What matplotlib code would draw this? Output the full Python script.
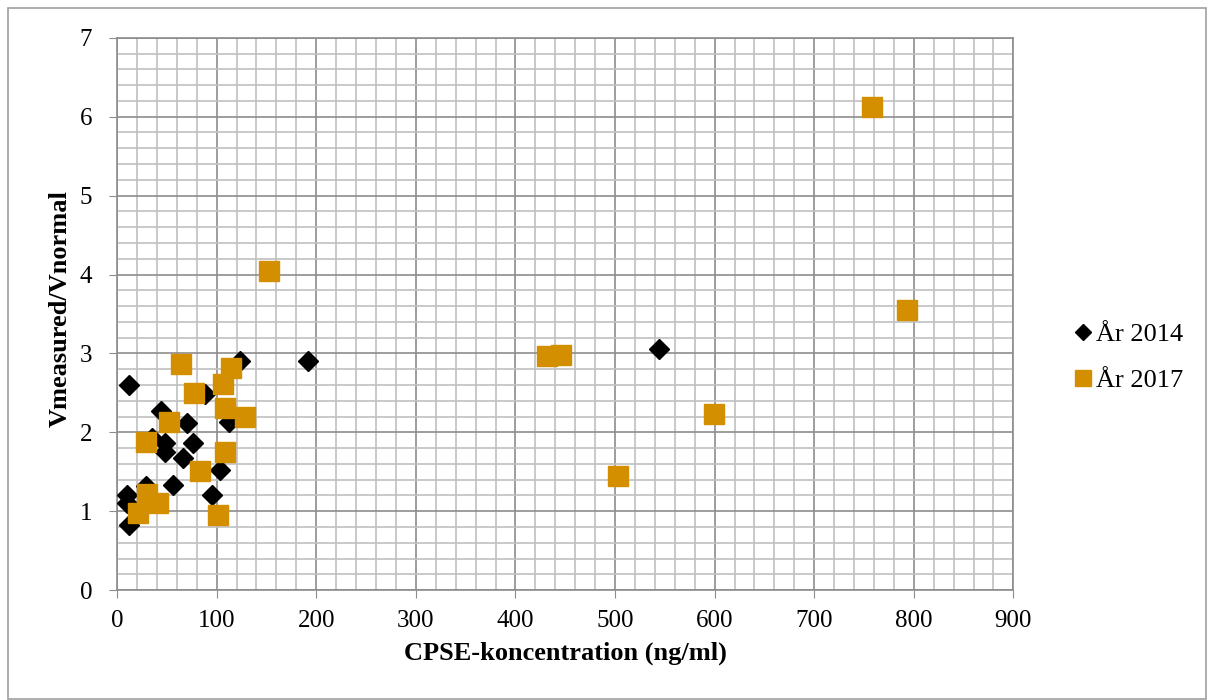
import matplotlib.pyplot as plt
from matplotlib.patches import Rectangle
from matplotlib.ticker import MultipleLocator

# År 2014 (black diamonds)
x_2014 = [12, 123, 88, 44, 70, 112, 35, 48, 48, 76, 66, 103, 56, 95, 29, 10, 10, 12, 192, 544]
y_2014 = [2.6, 2.9, 2.49, 2.27, 2.12, 2.13, 1.93, 1.86, 1.75, 1.87, 1.67, 1.52, 1.33, 1.2, 1.32, 1.2, 1.1, 0.82, 2.9, 3.05]

# År 2017 (orange squares)
x_2017 = [64, 114, 106, 77, 108, 128, 52, 29, 108, 83, 30, 41, 21, 101, 153, 432, 446, 503, 599, 758, 793]
y_2017 = [2.86, 2.82, 2.61, 2.5, 2.31, 2.2, 2.13, 1.88, 1.75, 1.51, 1.22, 1.1, 0.98, 0.95, 4.05, 2.97, 2.98, 1.45, 2.23, 6.12, 3.55]

plt.rcParams['font.family'] = ['Liberation Serif', 'DejaVu Serif']

fig = plt.figure(figsize=(12.08, 7), dpi=100)
ax = fig.add_axes([0.0969, 0.157, 0.742, 0.789])

fig.patches.append(Rectangle((8 / 1208, 0.001), 1198 / 1208, 1 - 8 / 700 - 0.001,
                             transform=fig.transFigure, fill=False,
                             edgecolor='#a0a0a0', linewidth=1.2))

ax.plot(x_2014, y_2014, linestyle='none', marker='D', markersize=10,
        color='black', label='År 2014', zorder=3)
ax.plot(x_2017, y_2017, linestyle='none', marker='s', markersize=14,
        color='#d48f00', label='År 2017', zorder=4)

ax.set_xlim(0, 900)
ax.set_ylim(0, 7)
ax.xaxis.set_major_locator(MultipleLocator(100))
ax.xaxis.set_minor_locator(MultipleLocator(20))
ax.yaxis.set_major_locator(MultipleLocator(1))
ax.yaxis.set_minor_locator(MultipleLocator(0.2))
ax.grid(which='major', color='#8c8c8c', linewidth=1.2)
ax.grid(which='minor', color='#c0c0c0', linewidth=1.2)
ax.set_axisbelow(True)

for s in ax.spines.values():
    s.set_color('#8c8c8c')
    s.set_linewidth(1.2)
ax.tick_params(which='major', length=6, color='#8c8c8c', labelsize=18)
ax.tick_params(axis='x', pad=8)
ax.tick_params(axis='y', pad=12)
ax.tick_params(which='minor', length=0)

ax.set_xlabel('CPSE-koncentration (ng/ml)', fontsize=19, fontweight='bold')
ax.set_ylabel('Vmeasured/Vnormal', fontsize=19, fontweight='bold')
ax.xaxis.set_label_coords(0.5, -0.093)
ax.yaxis.set_label_coords(-0.050, 0.51)

ax.legend(loc='center left', bbox_to_anchor=(1.036, 0.421), frameon=False,
          fontsize=19, handletextpad=0.0, handlelength=1.0, labelspacing=0.85,
          markerscale=0.85)

fig.savefig('out.png', dpi=100)
